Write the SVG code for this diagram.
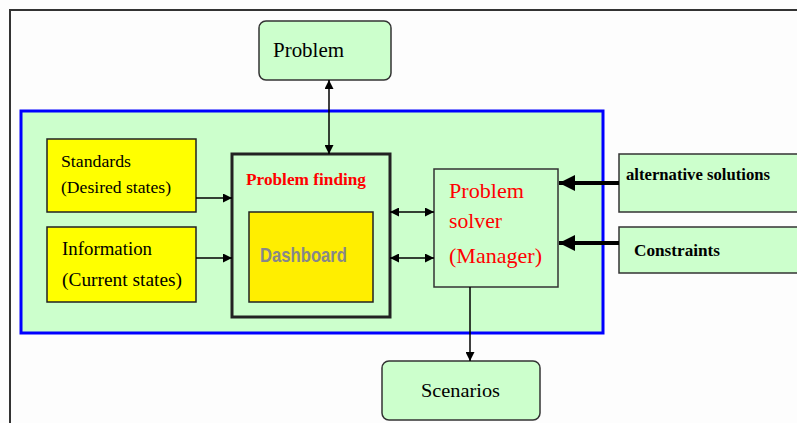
<svg xmlns="http://www.w3.org/2000/svg" width="797" height="423" viewBox="0 0 797 423">
<style>
.serif{font-family:"Liberation Serif","Times New Roman",serif;}
.green{fill:#ccffcc;stroke:#333;stroke-width:1.5;}
.yellow{fill:#ffff00;stroke:#222;stroke-width:1.5;}
.line{stroke:#000;stroke-width:1.5;fill:none;}
.thick{stroke:#000;stroke-width:4;fill:none;}
</style>
<defs>
<marker id="ah" viewBox="0 0 10 10" refX="10" refY="5" markerWidth="10" markerHeight="9" markerUnits="userSpaceOnUse" orient="auto-start-reverse"><path d="M0,0 L10,5 L0,10 z" fill="#000"/></marker>
<marker id="ahb" viewBox="0 0 10 10" refX="10" refY="5" markerWidth="4" markerHeight="4" orient="auto"><path d="M0,0 L10,5 L0,10 z" fill="#000"/></marker>
</defs>
<rect width="797" height="423" fill="#fdfdfd"/>
<path d="M10,423 V10 H797" fill="none" stroke="#333" stroke-width="2"/>

<g id="container"><rect x="21" y="111" width="582" height="222" fill="#ccffcc" stroke="#0000ff" stroke-width="3"/></g>

<g id="problem"><rect x="259" y="21" width="132" height="59" rx="7" class="green"/>
<text x="273" y="57" class="serif" font-size="21" textLength="71" lengthAdjust="spacingAndGlyphs">Problem</text></g>

<g id="standards"><rect x="47" y="139" width="149" height="73" class="yellow"/>
<text x="61" y="167" class="serif" font-size="16" textLength="70" lengthAdjust="spacingAndGlyphs">Standards</text>
<text x="61" y="193" class="serif" font-size="16" textLength="110" lengthAdjust="spacingAndGlyphs">(Desired states)</text></g>

<g id="information"><rect x="47" y="227" width="149" height="75" class="yellow"/>
<text x="62" y="255" class="serif" font-size="19" textLength="90" lengthAdjust="spacingAndGlyphs">Information</text>
<text x="62" y="286" class="serif" font-size="19" textLength="120" lengthAdjust="spacingAndGlyphs">(Current states)</text></g>

<g id="problem-finding"><rect x="232" y="154" width="158" height="163" fill="#ccffcc" stroke="#222" stroke-width="3"/>
<text x="246" y="185" class="serif" font-size="17" font-weight="bold" fill="#ff0000" textLength="120" lengthAdjust="spacingAndGlyphs">Problem finding</text></g>

<g id="dashboard"><rect x="249" y="212" width="124" height="90" fill="#ffee00" stroke="#222" stroke-width="1.5"/>
<text x="260" y="262" font-family="Liberation Sans Narrow,Liberation Sans,Arial,sans-serif" font-size="21" font-weight="bold" fill="#888888" textLength="87" lengthAdjust="spacingAndGlyphs">Dashboard</text></g>

<g id="problem-solver"><rect x="434" y="169" width="124" height="118" class="green"/>
<text x="449" y="198" class="serif" font-size="22" fill="#ff0000" textLength="75" lengthAdjust="spacingAndGlyphs">Problem</text>
<text x="449" y="228" class="serif" font-size="22" fill="#ff0000" textLength="53" lengthAdjust="spacingAndGlyphs">solver</text>
<text x="449" y="263" class="serif" font-size="22" fill="#ff0000" textLength="93" lengthAdjust="spacingAndGlyphs">(Manager)</text></g>

<g id="alternative-solutions"><rect x="619" y="154" width="190" height="58" class="green"/>
<text x="626" y="180" class="serif" font-size="16" font-weight="bold" textLength="144" lengthAdjust="spacingAndGlyphs">alternative solutions</text></g>

<g id="constraints"><rect x="619" y="227" width="190" height="46" class="green"/>
<text x="634" y="256" class="serif" font-size="17" font-weight="bold" textLength="86" lengthAdjust="spacingAndGlyphs">Constraints</text></g>

<g id="scenarios"><rect x="382" y="361" width="158" height="59" rx="7" class="green"/>
<text x="421" y="397" class="serif" font-size="19" textLength="79" lengthAdjust="spacingAndGlyphs">Scenarios</text></g>

<g id="connectors">
<line x1="329" y1="80" x2="329" y2="154" class="line" marker-start="url(#ah)" marker-end="url(#ah)"/>
<line x1="196" y1="198" x2="232" y2="198" class="line" marker-end="url(#ah)"/>
<line x1="196" y1="258" x2="232" y2="258" class="line" marker-end="url(#ah)"/>
<line x1="390" y1="212" x2="434" y2="212" class="line" marker-start="url(#ah)" marker-end="url(#ah)"/>
<line x1="390" y1="258" x2="434" y2="258" class="line" marker-start="url(#ah)" marker-end="url(#ah)"/>
<line x1="619" y1="183" x2="559" y2="183" class="thick" marker-end="url(#ahb)"/>
<line x1="619" y1="243" x2="559" y2="243" class="thick" marker-end="url(#ahb)"/>
<line x1="470" y1="287" x2="470" y2="361" class="line" marker-end="url(#ah)"/>
</g>
</svg>
